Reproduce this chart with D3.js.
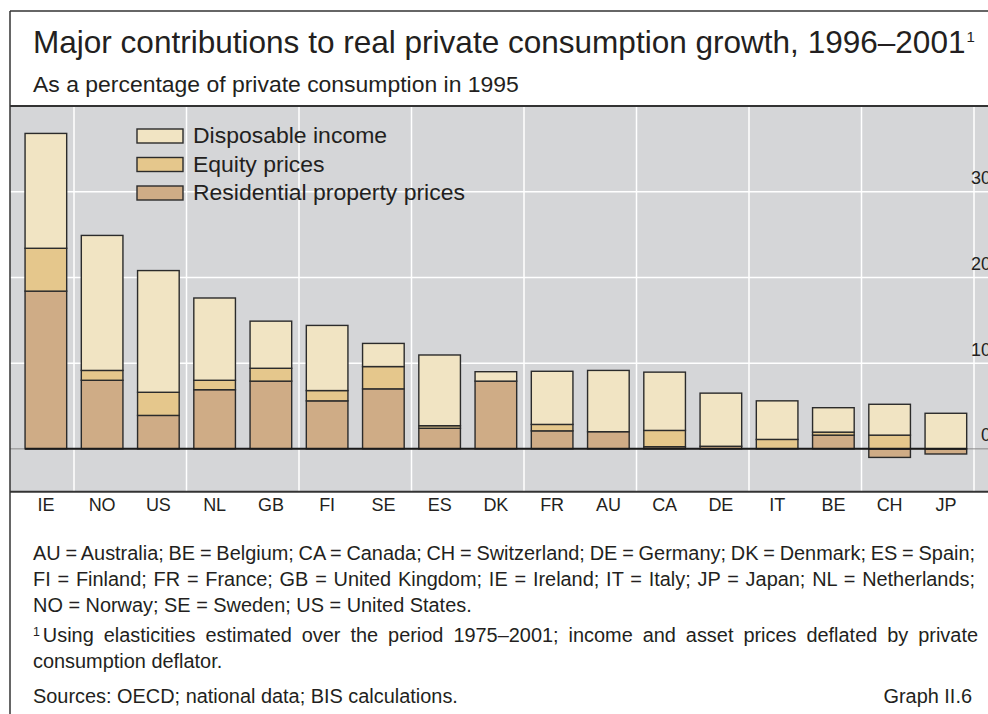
<!DOCTYPE html>
<html>
<head>
<meta charset="utf-8">
<script src="https://cdn.jsdelivr.net/npm/d3@7"></script>
<style>
  html, body { margin: 0; padding: 0; background: #fff; overflow: hidden; }
  text { font-family: "Liberation Sans", Arial, sans-serif; fill: #231f20; }
</style>
</head>
<body>
<script>
// data
const categories = ['IE', 'NO', 'US', 'NL', 'GB', 'FI', 'SE', 'ES', 'DK', 'FR', 'AU', 'CA', 'DE', 'IT', 'BE', 'CH', 'JP']
const residential = [18.4, 8.0, 3.9, 6.9, 7.9, 5.6, 7.0, 2.4, 7.9, 2.1, 2.0, 0.25, 0.3, 0, 1.6, -1.0, -0.6]
const equity = [5.0, 1.15, 2.7, 1.1, 1.5, 1.2, 2.6, 0.3, 0, 0.75, 0, 1.9, 0, 1.1, 0.35, 1.6, 0]
const disposable = [13.4, 15.75, 14.2, 9.6, 5.5, 7.6, 2.7, 8.25, 1.1, 6.2, 7.15, 6.8, 6.2, 4.5, 2.85, 3.6, 4.15]
const yTicks = [0, 10, 20, 30]

const seriesNames = ['Disposable income', 'Equity prices', 'Residential property prices']
const seriesKeys = ['residential', 'equity', 'disposable']
const colors = { disposable: '#f1e4c3', equity: '#e5c78c', residential: '#cfac86' }

const footLines = [
  'AU = Australia; BE = Belgium; CA = Canada; CH = Switzerland; DE = Germany; DK = Denmark; ES = Spain;',
  'FI = Finland; FR = France; GB = United Kingdom; IE = Ireland; IT = Italy; JP = Japan; NL = Netherlands;',
  'NO = Norway; SE = Sweden; US = United States.'
]
const noteLines = [
  'Using elasticities estimated over the period 1975–2001; income and asset prices deflated by private',
  'consumption deflator.'
]

const frame = { width: 988, height: 714, left: 10, top: 11, panelTop: 106, panelBottom: 491.7 }

const svg = d3.select('body').append('svg')
  .attr('width', frame.width)
  .attr('height', frame.height)

// makes a text element a given width by changing its font size
function fitWidth(sel, w) {
  const fs = parseFloat(sel.attr('font-size'))
  const len = sel.node().getComputedTextLength()
  sel.attr('font-size', fs * w / len)
}

// justify by spreading the spaces
function justify(sel, w) {
  const len = sel.node().getComputedTextLength()
  const gaps = sel.text().split(' ').length - 1
  sel.style('word-spacing', ((w - len) / gaps) + 'px')
}

// panel
svg.append('rect')
  .attr('x', frame.left)
  .attr('y', frame.panelTop)
  .attr('width', frame.width)
  .attr('height', frame.panelBottom - frame.panelTop)
  .attr('fill', '#d5d6d8')

const x = d3.scaleBand()
  .domain(categories)
  .range([17.75, 974])
  .paddingInner(0.26)
  .paddingOuter(0.13)

const y = d3.scaleLinear()
  .domain([-5, 40])
  .range([frame.panelBottom, frame.panelTop])

// grid
const gaps = (x.step() - x.bandwidth()) / 2
const vLines = categories.map((c, i) => i).filter(i => i % 2 === 1).map(i => x(categories[i]) - gaps)
vLines.push(x.range()[1])

svg.append('g').selectAll('line')
  .data(vLines)
  .join('line')
  .attr('x1', d => d).attr('x2', d => d)
  .attr('y1', frame.panelTop).attr('y2', frame.panelBottom)
  .attr('stroke', '#fff').attr('stroke-width', 1.5)

svg.append('g').selectAll('line')
  .data([10, 20, 30])
  .join('line')
  .attr('x1', frame.left).attr('x2', frame.width)
  .attr('y1', d => y(d)).attr('y2', d => y(d))
  .attr('stroke', '#fff').attr('stroke-width', 1.5)

svg.append('line')
  .attr('x1', frame.left).attr('x2', frame.width)
  .attr('y1', y(0)).attr('y2', y(0))
  .attr('stroke', '#8a8a8a').attr('stroke-width', 1)

// bars
const table = categories.map((c, i) => ({
  cat: c, residential: residential[i], equity: equity[i], disposable: disposable[i]
}))
const stacked = d3.stack().keys(seriesKeys).offset(d3.stackOffsetDiverging)(table)

svg.append('g').selectAll('g')
  .data(stacked)
  .join('g')
  .attr('fill', s => colors[s.key])
  .selectAll('rect')
  .data(s => s.filter(d => d[1] !== d[0]))
  .join('rect')
  .attr('x', d => x(d.data.cat))
  .attr('width', x.bandwidth())
  .attr('y', d => y(Math.max(d[0], d[1])))
  .attr('height', d => Math.abs(y(d[0]) - y(d[1])))
  .attr('stroke', '#2b2b2b')
  .attr('stroke-width', 1.4)

svg.append('line')
  .attr('x1', x(categories[0])).attr('x2', x(categories[categories.length - 1]) + x.bandwidth())
  .attr('y1', y(0)).attr('y2', y(0))
  .attr('stroke', '#1a1a1a').attr('stroke-width', 2)

// axes
const xAxis = svg.append('g')
  .attr('transform', `translate(0,${frame.panelBottom})`)
  .call(d3.axisBottom(x).tickSize(0).tickPadding(7))
xAxis.select('.domain').remove()
xAxis.selectAll('text').attr('font-size', 18).attr('font-family', null).attr('fill', '#231f20')

const yAxis = svg.append('g')
  .attr('transform', 'translate(991,0)')
  .call(d3.axisLeft(y).tickValues(yTicks).tickSize(0).tickPadding(0))
yAxis.select('.domain').remove()
yAxis.selectAll('text').attr('font-size', 18).attr('font-family', null).attr('fill', '#231f20')
  .attr('dy', '-0.45em')

// legend
const legend = svg.append('g').attr('transform', 'translate(137,129)')
const legendKeys = ['disposable', 'equity', 'residential']
legendKeys.forEach((k, i) => {
  legend.append('rect')
    .attr('x', 0).attr('y', i * 28.5)
    .attr('width', 46).attr('height', 14)
    .attr('fill', colors[k])
    .attr('stroke', '#2b2b2b').attr('stroke-width', 1.4)
  const t = legend.append('text')
    .attr('x', 56).attr('y', i * 28.5 + 14)
    .attr('font-size', 21)
    .text(seriesNames[i])
  if (i === 2) fitWidth(t, 272)
})
legend.selectAll('text').attr('font-size', legend.selectAll('text').filter((d, i) => i === 2).attr('font-size'))

// frame lines
svg.append('line')
  .attr('x1', frame.left).attr('x2', frame.width)
  .attr('y1', frame.top).attr('y2', frame.top)
  .attr('stroke', '#333').attr('stroke-width', 1.5)
svg.append('line')
  .attr('x1', frame.left).attr('x2', frame.left)
  .attr('y1', frame.top).attr('y2', frame.height)
  .attr('stroke', '#333').attr('stroke-width', 1.5)
svg.append('line')
  .attr('x1', frame.left).attr('x2', frame.width)
  .attr('y1', frame.panelTop).attr('y2', frame.panelTop)
  .attr('stroke', '#333').attr('stroke-width', 2)
svg.append('line')
  .attr('x1', frame.left).attr('x2', frame.width)
  .attr('y1', frame.panelBottom).attr('y2', frame.panelBottom)
  .attr('stroke', '#333').attr('stroke-width', 2)

// title
const title = svg.append('text')
  .attr('x', 33).attr('y', 53)
  .attr('font-size', 28)
  .text('Major contributions to real private consumption growth, 1996–2001')
fitWidth(title, 933)
title.append('tspan')
  .attr('font-size', 15)
  .attr('dx', 1)
  .attr('dy', -11)
  .text('1')

const sub = svg.append('text')
  .attr('x', 33).attr('y', 92)
  .attr('font-size', 19)
  .text('As a percentage of private consumption in 1995')
fitWidth(sub, 486)

// footnotes
const foot = svg.append('g')
const src = foot.append('text')
  .attr('x', 33).attr('y', 703)
  .attr('font-size', 17)
  .text('Sources: OECD; national data; BIS calculations.')
fitWidth(src, 425)
const fs = +src.attr('font-size')

footLines.forEach((s, i) => {
  const t = foot.append('text')
    .attr('x', 33).attr('y', 560 + i * 26)
    .attr('font-size', fs)
    .text(s)
  if (i < 2) justify(t, 942)
})

const n1 = foot.append('text')
  .attr('x', 33).attr('y', 642)
  .attr('font-size', fs)
n1.append('tspan').attr('font-size', fs * 0.62).attr('dy', -6).text('1')
n1.append('tspan').attr('dx', 3).attr('dy', 6).text(noteLines[0])
justify(n1, 942)

foot.append('text')
  .attr('x', 33).attr('y', 668)
  .attr('font-size', fs)
  .text(noteLines[1])

foot.append('text')
  .attr('x', 972).attr('y', 703)
  .attr('font-size', fs)
  .attr('text-anchor', 'end')
  .text('Graph II.6')
</script>
</body>
</html>
